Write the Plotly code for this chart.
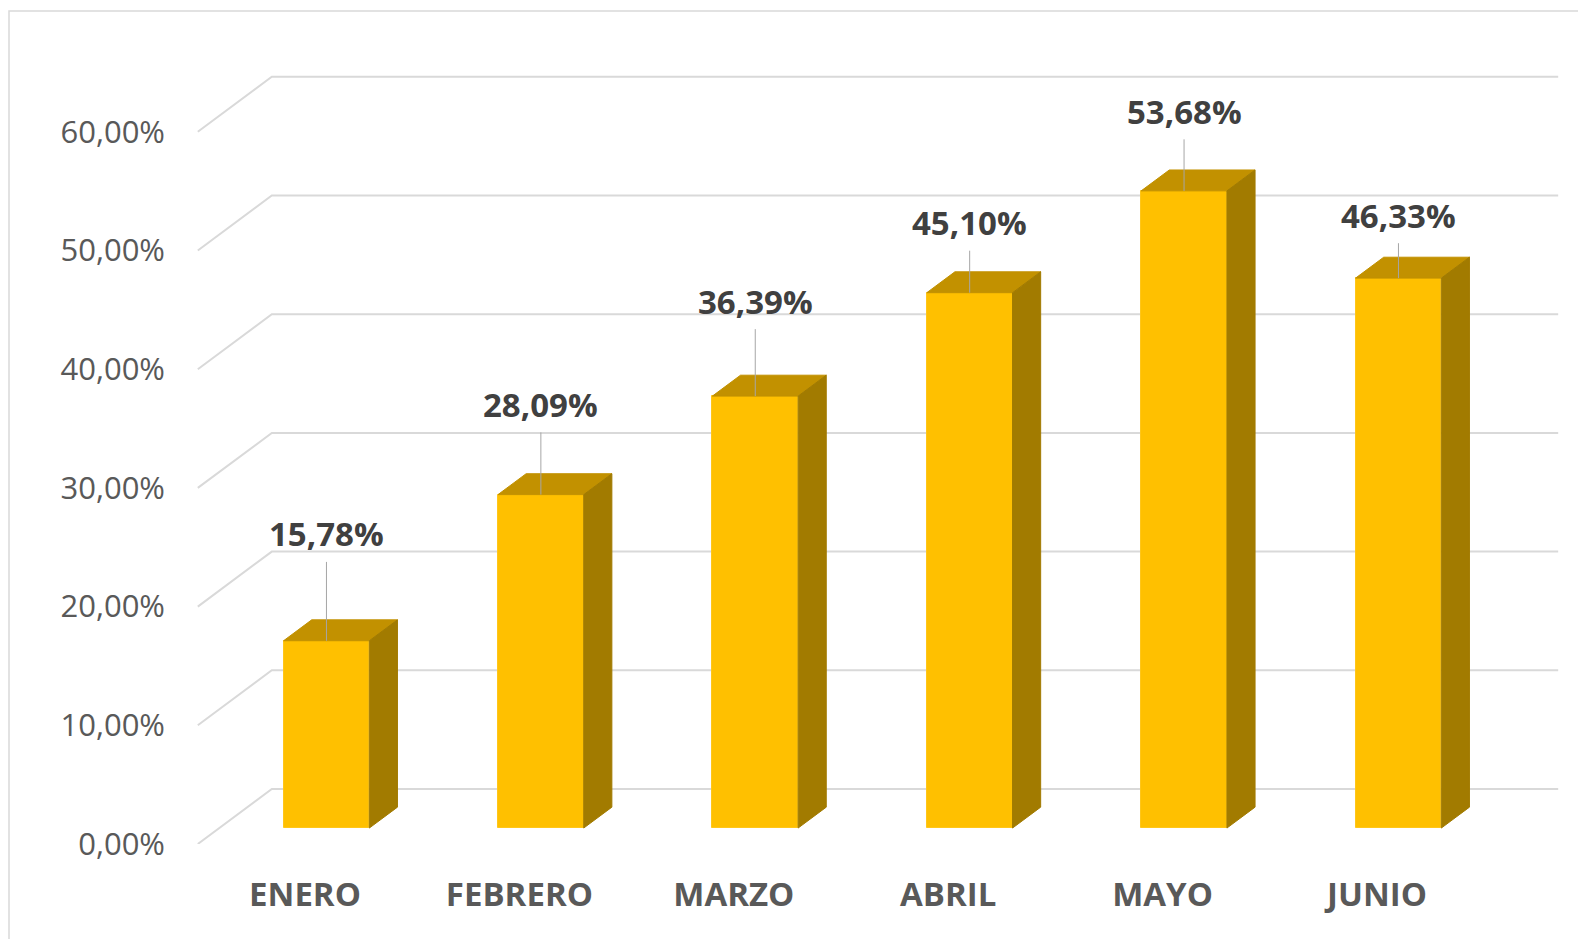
import plotly.graph_objects as go

# ---------------- data ----------------
months = ["ENERO", "FEBRERO", "MARZO", "ABRIL", "MAYO", "JUNIO"]
values = [15.78, 28.09, 36.39, 45.10, 53.68, 46.33]
y_ticks = [0, 10, 20, 30, 40, 50, 60]
y_tick_text = ["0,00%", "10,00%", "20,00%", "30,00%", "40,00%", "50,00%", "60,00%"]
label_text = [f"{v:.2f}".replace(".", ",") + "%" for v in values]

# ---------------- style / geometry ----------------
PAGE_PAD = 8                  # default body margin of the html page
W, H = 1586 - 2 * PAGE_PAD, 947 - 2 * PAGE_PAD
PX_X0 = 305.0 - PAGE_PAD      # pixel of first category on front plane
PX_UNIT = 214.4               # pixels per category
PX_Y0 = 844.0 - PAGE_PAD      # pixel of 0% on front plane
PX_PER_PCT = 11.87            # pixels per percent
ML = 196 - PAGE_PAD           # left margin (front plane left edge)
MB = H - PX_Y0

WALL_DX = 74 / PX_UNIT        # depth offset front plane -> back wall (x units)
WALL_DY = 55 / PX_PER_PCT     # depth offset front plane -> back wall (% units)
FRONT_D = 0.29                # bar front face depth fraction
BACK_D = 0.67                 # bar back face depth fraction
HALF_W = 0.2                  # half bar width (category units)
label_lift = [9.0, 7.6, 8.0, 5.9, 6.7, 5.3]   # label offset above bar top (% units)
LEADER_GAP = 28 / PX_PER_PCT

FRONT_COL = "#FFC000"
TOP_COL = "#C29100"
SIDE_COL = "#A27B00"
GRID_COL = "#D9D9D9"
TICK_COL = "#595959"
LABEL_COL = "#404040"
FONT = "Open Sans"

x_min = (ML - PX_X0) / PX_UNIT
x_max = (W - PX_X0) / PX_UNIT
y_max = PX_Y0 / PX_PER_PCT

fx = FRONT_D * WALL_DX
fy = FRONT_D * WALL_DY
bdx = (BACK_D - FRONT_D) * WALL_DX
bdy = (BACK_D - FRONT_D) * WALL_DY

fig = go.Figure()

# front faces
centers = [i + fx for i in range(len(months))]
fig.add_trace(go.Bar(
    x=centers, y=values, base=fy, width=2 * HALF_W,
    marker=dict(color=FRONT_COL, line=dict(color="#FFC61A", width=1)),
    hoverinfo="skip", showlegend=False,
))

# top and side faces
for cx, v in zip(centers, values):
    top = v + fy
    xl, xr = cx - HALF_W, cx + HALF_W
    fig.add_trace(go.Scatter(
        x=[xl, xr, xr + bdx, xl + bdx, xl],
        y=[top, top, top + bdy, top + bdy, top],
        fill="toself", fillcolor=TOP_COL, mode="lines",
        line=dict(color=TOP_COL, width=1), hoverinfo="skip", showlegend=False,
    ))
    fig.add_trace(go.Scatter(
        x=[xr, xr, xr + bdx, xr + bdx, xr],
        y=[fy, top, top + bdy, fy + bdy, fy],
        fill="toself", fillcolor=SIDE_COL, mode="lines",
        line=dict(color=SIDE_COL, width=1), hoverinfo="skip", showlegend=False,
    ))

# leader lines
lx, ly = [], []
for cx, v, lift in zip(centers, values, label_lift):
    top = v + fy
    lx += [cx, cx, None]
    ly += [top, top + lift - LEADER_GAP, None]
fig.add_trace(go.Scatter(
    x=lx, y=ly, mode="lines", line=dict(color="#A6A6A6", width=1),
    hoverinfo="skip", showlegend=False,
))

# data labels
for cx, v, lift, t in zip(centers, values, label_lift, label_text):
    fig.add_annotation(
        x=cx, y=v + fy + lift, text=t, showarrow=False,
        xanchor="center", yanchor="middle",
        font=dict(family=FONT, size=33, color=LABEL_COL, weight=700),
    )

# back wall + left wall gridlines (below bars)
shapes = []
n = len(months)
for t in y_ticks:
    x0 = -0.5
    x1 = -0.5 + WALL_DX
    x2 = n - 0.5 + WALL_DX
    y1 = t + WALL_DY
    shapes.append(dict(
        type="path", xref="x", yref="y", layer="below",
        path=f"M {x0},{t} L {x1},{y1} L {x2},{y1}",
        line=dict(color=GRID_COL, width=2),
    ))

# chart area border (left and top)
pw = W - ML
ph = PX_Y0
bx = (1 - ML) / pw
by = 1 - 3 / ph
shapes.append(dict(
    type="path", xref="paper", yref="paper", layer="below",
    path=f"M {bx},-0.3 L {bx},{by} L 1.05,{by}",
    line=dict(color="#D9D9D9", width=1.5),
))

fig.update_layout(
    width=W, height=H,
    margin=dict(l=ML, r=0, t=0, b=MB),
    paper_bgcolor="white", plot_bgcolor="white",
    shapes=shapes,
    xaxis=dict(
        range=[x_min, x_max], tickvals=list(range(n)), ticktext=months,
        showgrid=False, zeroline=False, showline=False, ticks="",
        tickfont=dict(family=FONT, size=33, color=TICK_COL, weight=700),
        ticklabelstandoff=28, fixedrange=True,
    ),
    yaxis=dict(
        range=[0, y_max], tickvals=y_ticks, ticktext=y_tick_text,
        showgrid=False, zeroline=False, showline=False, ticks="",
        tickfont=dict(family=FONT, size=31, color=TICK_COL),
        ticklabelstandoff=30, fixedrange=True,
    ),
    bargap=0,
)

fig.write_html("out.html")
